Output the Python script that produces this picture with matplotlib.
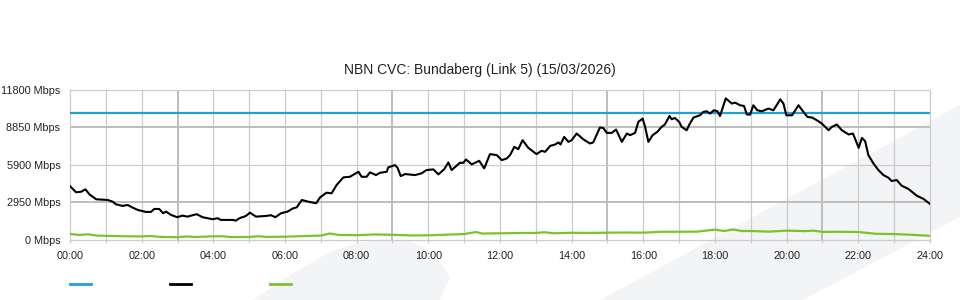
import numpy as np
import matplotlib
matplotlib.use('Agg')
import matplotlib.pyplot as plt
from matplotlib.patches import Polygon
from matplotlib.lines import Line2D

plt.rcParams['font.family'] = ['Liberation Sans', 'DejaVu Sans']

title = 'NBN CVC: Bundaberg (Link 5) (15/03/2026)'

# capacity (Mbps)
capacity = 10000

# black series: hour of day, Mbps
black_t = [0.00, 0.17, 0.31, 0.43, 0.54, 0.73, 1.05, 1.19, 1.28, 1.47, 1.61, 1.75, 1.89,
           2.12, 2.26, 2.35, 2.49, 2.60, 2.68, 2.82, 2.99, 3.14, 3.28, 3.42, 3.54, 3.70,
           3.98, 4.12, 4.21, 4.54, 4.63, 4.73, 4.91, 5.02, 5.19, 5.47, 5.61, 5.73, 5.89,
           6.07, 6.21, 6.33, 6.47, 6.65, 6.87, 6.98, 7.16, 7.30, 7.44, 7.63, 7.81, 8.05,
           8.14, 8.28, 8.37, 8.54, 8.65, 8.84, 8.88, 9.07, 9.14, 9.23, 9.35, 9.63, 9.81,
           9.95, 10.14, 10.28, 10.44, 10.56, 10.65, 10.88, 10.98, 11.05, 11.21, 11.42,
           11.56, 11.72, 11.91, 12.05, 12.19, 12.28, 12.40, 12.51, 12.63, 12.79, 13.02,
           13.16, 13.26, 13.40, 13.54, 13.63, 13.69, 13.79, 13.91, 14.00, 14.14, 14.33,
           14.51, 14.60, 14.79, 14.88, 14.98, 15.12, 15.24, 15.40, 15.54, 15.63, 15.77,
           15.86, 15.98, 16.05, 16.14, 16.26, 16.39, 16.51, 16.60, 16.73, 16.79, 16.88,
           17.00, 17.07, 17.21, 17.30, 17.40, 17.58, 17.67, 17.77, 17.86, 17.97, 18.07,
           18.14, 18.30, 18.47, 18.56, 18.70, 18.81, 18.89, 18.98, 19.07, 19.18, 19.31,
           19.49, 19.63, 19.72, 19.82, 19.91, 19.99, 20.15, 20.33, 20.47, 20.58, 20.71,
           20.84, 20.98, 21.17, 21.26, 21.40, 21.54, 21.73, 21.85, 22.01, 22.10, 22.19,
           22.28, 22.42, 22.56, 22.70, 22.84, 22.93, 23.07, 23.21, 23.40, 23.63, 23.82,
           24.00]
black_v = [4220, 3725, 3770, 3960, 3570, 3175, 3120, 2985, 2780, 2650, 2725, 2515, 2335,
           2175, 2175, 2410, 2410, 2075, 2200, 1940, 1760, 1885, 1805, 1915, 1995, 1760,
           1600, 1680, 1545, 1545, 1490, 1680, 1860, 2120, 1805, 1860, 1915, 1760, 2075,
           2200, 2440, 2545, 3120, 2985, 2860, 3330, 3695, 3645, 4300, 4905, 4950, 5345,
           4950, 4950, 5300, 5085, 5265, 5345, 5690, 5875, 5660, 5005, 5165, 5085, 5220,
           5480, 5535, 5140, 5535, 6085, 5480, 6055, 6055, 6320, 5930, 6210,
           5615, 6740, 6660, 6265, 6400, 6660, 7310, 7130, 7840, 7235, 6740,
           7000, 6920, 7390, 7500, 7660, 7500, 8100, 7705, 7840, 8365, 7895,
           7580, 7660, 8840, 8805, 8415, 8415, 8680, 7705, 8365, 8235, 8415,
           9280, 9545, 8885, 7705, 8235, 8495, 8885, 9075, 9750, 9490, 9595,
           9280, 8885, 8625, 9155, 9625, 9805, 10065, 10120, 9940, 10200, 10120,
           9750, 11140, 10730, 10805, 10595, 10540, 9860, 9860, 10595, 10200, 10120,
           10335, 10200, 10595, 11065, 10730, 9805, 9805, 10595, 10065, 9675, 9625,
           9415, 9155, 8625, 8885, 9075, 8625, 8290, 8365, 7235, 8020, 7760,
           6660, 6005, 5480, 5085, 4875, 4615, 4695, 4245, 3985, 3460, 3200,
           2805]

# green series: hour of day, Mbps
green_t = [0.0, 0.25, 0.5, 0.75, 1.0, 1.5, 2.0, 2.25, 2.5, 3.0, 3.25, 3.5, 4.0, 4.25, 4.5,
           5.0, 5.25, 5.5, 6.0, 6.5, 7.0, 7.25, 7.5, 8.0, 8.5, 9.0, 9.5, 10.0, 10.5, 11.0,
           11.33, 11.5, 12.0, 12.5, 13.0, 13.25, 13.5, 14.0, 14.5, 15.0, 15.5, 16.0, 16.5,
           17.0, 17.5, 18.0, 18.25, 18.5, 18.75, 19.0, 19.5, 20.0, 20.5, 20.75, 21.0, 21.5,
           22.0, 22.5, 23.0, 23.5, 24.0]
green_v = [440, 360, 410, 310, 290, 260, 240, 280, 210, 180, 240, 200, 250, 260, 190,
           200, 260, 200, 220, 270, 310, 470, 360, 340, 400, 370, 320, 330, 380, 430,
           590, 470, 490, 510, 520, 570, 490, 530, 520, 540, 550, 540, 610,
           610, 620, 780, 670, 790, 670, 670, 620, 700, 660, 700, 600, 610,
           590, 450, 430, 370, 290]

ymax = 11800
yticks = [0, 2950, 5900, 8850, 11800]
xticks = list(range(0, 25, 2))

fig = plt.figure(figsize=(9.6, 3.0), dpi=100)

# light watermark shapes behind the chart
W, H = 960.0, 300.0
band = [(600, 300), (960, 105), (960, 217), (803, 300)]
blob = [(253, 300), (290, 275), (330, 252), (357, 243), (385, 239), (407, 240),
        (425, 248), (440, 262), (450, 277), (440, 300)]
for pts in (band, blob):
    fig.patches.append(Polygon([(x / W, 1 - y / H) for x, y in pts], closed=True,
                               transform=fig.transFigure, facecolor='#f3f4f6',
                               edgecolor='none', zorder=-5))

ax = fig.add_axes([70 / W, 1 - 239.5 / H, 860 / W, 149.5 / H])
ax.patch.set_alpha(0)
ax.set_zorder(1)

ax.set_xlim(0, 24)
ax.set_ylim(0, ymax)

# grid
for h in range(1, 24):
    if h % 6 == 3:
        ax.axvline(h, color='#bdbdbd', lw=1.4, zorder=1)
    else:
        ax.axvline(h, color='#cccccc', lw=0.9, zorder=1)
for v in yticks[1:-1]:
    if v == 5900:
        ax.axhline(v, color='#cccccc', lw=0.9, zorder=1)
    else:
        ax.axhline(v, color='#bdbdbd', lw=1.4, zorder=1)

for s in ax.spines.values():
    s.set_color('#cccccc')
    s.set_linewidth(0.9)

ax.axhline(capacity, color='#1ea0dc', lw=1.6, zorder=3)
ax.plot(green_t, green_v, color='#7cc22b', lw=1.6, zorder=3)
ax.plot(black_t, black_v, color='black', lw=1.5, zorder=4)

ax.set_xticks(xticks)
ax.set_xticklabels(['%02d:00' % h for h in xticks])
ax.set_xticks(range(0, 25), minor=True)
ax.set_yticks(yticks)
ax.set_yticklabels(['%d Mbps' % v for v in yticks])
ax.tick_params(axis='both', labelsize=7.8, labelcolor='#222222')
ax.tick_params(axis='y', pad=7, length=0)
ax.tick_params(axis='x', which='both', pad=6, length=2.5, width=0.9, color='#cccccc',
               direction='out')

fig.text(480 / W, 1 - 70 / H, title, ha='center', va='center', fontsize=10, color='#222222')

handles = [Line2D([], [], color='#1ea0dc', lw=2),
           Line2D([], [], color='black', lw=2),
           Line2D([], [], color='#7cc22b', lw=2)]
fig.legend(handles, ['', '', ''], loc='center left', bbox_to_anchor=(70 / W, 1 - 285 / H),
           ncol=3, frameon=False, fontsize=7.5, handlelength=2.0, handletextpad=0,
           columnspacing=7.6, borderpad=0, borderaxespad=0)

fig.savefig('out.png', dpi=100)
